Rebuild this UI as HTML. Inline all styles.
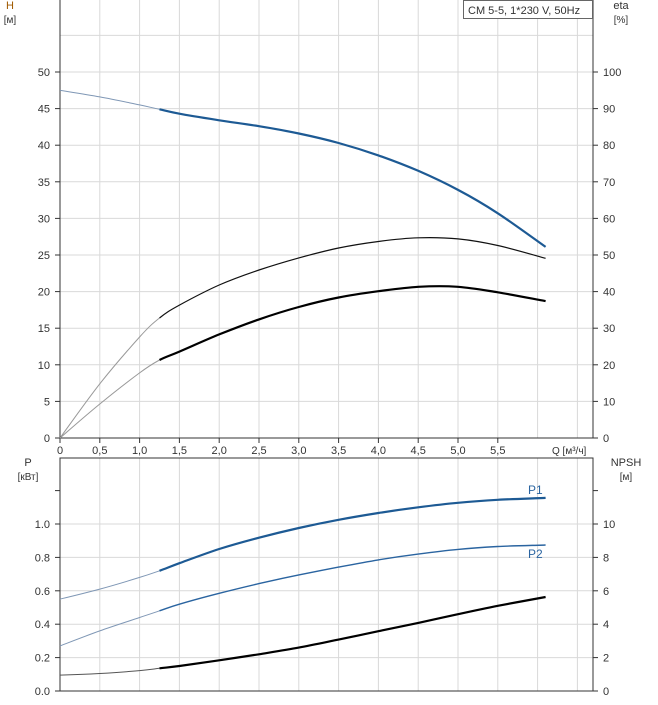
<!DOCTYPE html>
<html><head><meta charset="utf-8"><style>
body{margin:0;background:#fff;font-family:"Liberation Sans",sans-serif}
svg text{font-family:"Liberation Sans",sans-serif;font-size:11px;fill:#333}
</style></head><body>
<svg id="c" width="658" height="700" xmlns="http://www.w3.org/2000/svg"></svg>
<script>
const qVals=[0,0.5,1.0,1.25,1.5,2.0,2.5,3.0,3.5,4.0,4.5,5.0,5.5,6.1];
const headVals=[47.5,46.6,45.5,44.9,44.3,43.4,42.6,41.6,40.3,38.6,36.5,33.9,30.7,26.1];
const etaTotal=[0,14.8,27.6,32.8,36.3,41.8,45.9,49.2,51.9,53.7,54.7,54.4,52.6,49.1];
const etaPump=[0,9.3,17.8,21.3,23.6,28.3,32.4,35.8,38.4,40.1,41.3,41.3,39.8,37.4];
const p1Vals=[0.55,0.61,0.68,0.72,0.765,0.85,0.918,0.976,1.025,1.066,1.10,1.127,1.145,1.156];
const p2Vals=[0.27,0.36,0.44,0.48,0.52,0.585,0.643,0.695,0.742,0.785,0.82,0.848,0.865,0.874];
const npshVals=[0.95,1.05,1.22,1.36,1.5,1.84,2.2,2.6,3.08,3.58,4.08,4.6,5.1,5.63];
const qTicks=["0","0,5","1,0","1,5","2,0","2,5","3,0","3,5","4,0","4,5","5,0","5,5"];
const hTicks=[0,5,10,15,20,25,30,35,40,45,50];
const etaTicks=[0,10,20,30,40,50,60,70,80,90,100];
const pTicks=["0.0","0.2","0.4","0.6","0.8","1.0"];
const npshTicks=[0,2,4,6,8,10];

const svg=document.getElementById('c');
const NS='http://www.w3.org/2000/svg';
const L=60,R=593;
const xs=q=>L+q*79.6;
const yH=h=>438-h*7.32;
const yE=e=>438-e*3.66;
const yP=p=>691-p*167;
const yN=n=>691-n*16.7;
function mk(tag,at,name,txt){const e=document.createElementNS(NS,tag);for(const k in at)e.setAttribute(k,at[k]);


if(txt!==undefined)e.textContent=txt;svg.appendChild(e);return e;}
for(let i=0;i<=13;i++){const x=xs(i*0.5);if(x>R)break;
 mk('line',{x1:x,y1:0,x2:x,y2:438,stroke:'#d9d9d9'},'grid-v-top');
 mk('line',{x1:x,y1:458,x2:x,y2:691,stroke:'#d9d9d9'},'grid-v-bottom');}
for(let h=5;h<=55;h+=5)mk('line',{x1:L,y1:yH(h),x2:R,y2:yH(h),stroke:'#d9d9d9'},'grid-h-top');
for(let p=0.2;p<=1.01;p+=0.2)mk('line',{x1:L,y1:yP(p),x2:R,y2:yP(p),stroke:'#d9d9d9'},'grid-h-bottom');
mk('line',{x1:L,y1:0,x2:L,y2:438,stroke:'#333'},'h-axis');
mk('line',{x1:R,y1:0,x2:R,y2:438,stroke:'#333'},'eta-axis');
mk('line',{x1:L,y1:438,x2:R,y2:438,stroke:'#333'},'q-axis');
mk('rect',{x:L,y:458,width:R-L,height:233,fill:'none',stroke:'#333'},'bottom-frame');
hTicks.forEach(h=>{mk('line',{x1:L-5,y1:yH(h),x2:L,y2:yH(h),stroke:'#333'},'h-tick');
 mk('text',{x:L-10,y:yH(h)+4,'text-anchor':'end'},'h-tick-label',String(h));});
etaTicks.forEach(e=>{mk('line',{x1:R,y1:yE(e),x2:R+5,y2:yE(e),stroke:'#333'},'eta-tick');
 mk('text',{x:R+10,y:yE(e)+4},'eta-tick-label',String(e));});
qTicks.forEach((t,i)=>{const x=xs(i*0.5);mk('line',{x1:x,y1:438,x2:x,y2:443,stroke:'#333'},'q-tick');
 mk('text',{x:x,y:454,'text-anchor':'middle'},'q-tick-label',t);});
pTicks.forEach((t,i)=>{const y=yP(i*0.2);mk('line',{x1:L-5,y1:y,x2:L,y2:y,stroke:'#333'},'p-tick');
 mk('text',{x:L-10,y:y+4,'text-anchor':'end'},'p-tick-label',t);});
mk('line',{x1:L-5,y1:yP(1.2),x2:L,y2:yP(1.2),stroke:'#333'},'p-tick');
npshTicks.forEach(n=>{const y=yN(n);mk('line',{x1:R,y1:y,x2:R+5,y2:y,stroke:'#333'},'npsh-tick');
 mk('text',{x:R+10,y:y+4},'npsh-tick-label',String(n));});
mk('line',{x1:R,y1:yN(12),x2:R+5,y2:yN(12),stroke:'#333'},'npsh-tick');
mk('text',{x:10,y:9,'text-anchor':'middle',style:'fill:#a05a00'},'h-axis-title','H');
mk('text',{x:10,y:23,'text-anchor':'middle',style:'font-size:10px'},'h-axis-unit','[м]');
mk('text',{x:621,y:9,'text-anchor':'middle'},'eta-axis-title','eta');
mk('text',{x:621,y:23,'text-anchor':'middle',style:'font-size:10px'},'eta-axis-unit','[%]');
mk('text',{x:552,y:454,style:'font-size:10px'},'q-axis-title','Q [м³/ч]');
mk('text',{x:28,y:466,'text-anchor':'middle'},'p-axis-title','P');
mk('text',{x:28,y:480,'text-anchor':'middle',style:'font-size:10px'},'p-axis-unit','[кВт]');
mk('text',{x:626,y:466,'text-anchor':'middle'},'npsh-axis-title','NPSH');
mk('text',{x:626,y:480,'text-anchor':'middle',style:'font-size:10px'},'npsh-axis-unit','[м]');
mk('rect',{x:463.5,y:0.5,width:129,height:18,fill:'#fff',stroke:'#666'},'legend-box');
mk('text',{x:468,y:14},'legend-title','CM 5-5, 1*230 V, 50Hz');
function smooth(a){
 let s='M'+a[0][0].toFixed(1)+' '+a[0][1].toFixed(1);
 for(let i=0;i<a.length-1;i++){
  const p0=a[Math.max(0,i-1)],p1=a[i],p2=a[i+1],p3=a[Math.min(a.length-1,i+2)];
  const c1=[p1[0]+(p2[0]-p0[0])/6,p1[1]+(p2[1]-p0[1])/6];
  const c2=[p2[0]-(p3[0]-p1[0])/6,p2[1]-(p3[1]-p1[1])/6];
  s+=' C'+c1.map(v=>v.toFixed(1)).join(' ')+' '+c2.map(v=>v.toFixed(1)).join(' ')+' '+p2[0].toFixed(1)+' '+p2[1].toFixed(1);
 }
 return s;}
function curve(vals,yf,thin,thick,w,name){
 const pts=qVals.map((q,i)=>[xs(q),yf(vals[i])]);
 mk('path',{d:smooth(pts.slice(0,5)).split(' C').slice(0,4).join(' C'),fill:'none',stroke:thin,'stroke-width':1},name+'-extrapolated');
 mk('path',{d:smooth(pts.slice(2)).replace(/^M[^C]*C[^C]*C/,'M'+pts[3][0].toFixed(1)+' '+pts[3][1].toFixed(1)+' C'),fill:'none',stroke:thick,'stroke-width':w,'stroke-linejoin':'round'},name);}
curve(headVals,yH,'#7f97b5','#1d5a94',2.2,'head-curve');
curve(etaTotal,yE,'#999','#111',1.2,'eta-total-curve');
curve(etaPump,yE,'#999','#000',2.2,'eta-pump-curve');
curve(p1Vals,yP,'#7f97b5','#1d5a94',2.2,'p1-curve');
curve(p2Vals,yP,'#7f97b5','#2a64a0',1.4,'p2-curve');
curve(npshVals,yN,'#555','#000',2.2,'npsh-curve');
mk('text',{x:528,y:494,style:'fill:#2a64a0;font-size:12px'},'p1-label','P1');
mk('text',{x:528,y:558,style:'fill:#2a64a0;font-size:12px'},'p2-label','P2');
</script>
</body></html>
